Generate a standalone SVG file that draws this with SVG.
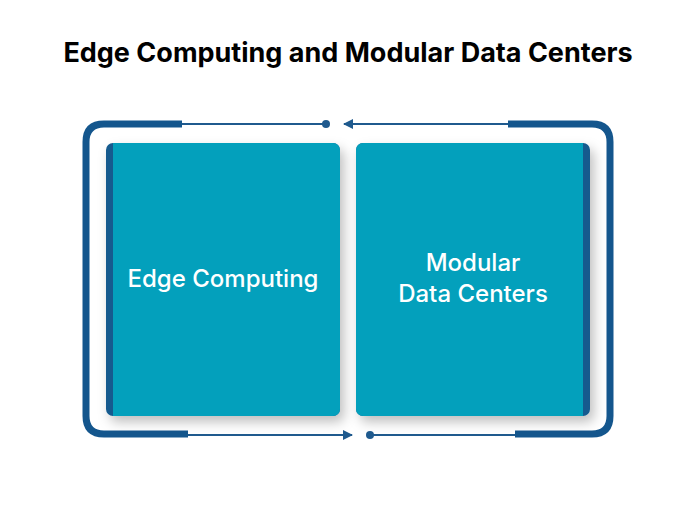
<svg xmlns="http://www.w3.org/2000/svg" width="696" height="510" viewBox="0 0 696 510">
<style>
.thick{fill:none;stroke:#14568d;stroke-width:7}
.thin{fill:none;stroke:#1f5a8e;stroke-width:2}
.card{fill:#03a0bc}
.strip{fill:#125a8e}
.lbl{font-family:"Inter","Liberation Sans",sans-serif;font-size:24px;font-weight:500;fill:#ffffff;text-anchor:middle}
</style>
<defs>
<marker id="ah" viewBox="0 0 10 10" refX="9" refY="5" markerWidth="5" markerHeight="5" orient="auto"><path d="M0,0 L10,5 L0,10 z" fill="#1f5a8e"/></marker>
<filter id="sh" x="-20%" y="-20%" width="140%" height="140%"><feDropShadow dx="4" dy="6" stdDeviation="6" flood-color="#000" flood-opacity="0.25"/></filter>
</defs>
<rect width="696" height="510" fill="#fff"/>
<text x="348" y="62" font-family="Inter,'Liberation Sans',sans-serif" font-weight="bold" font-size="27" text-anchor="middle" fill="#000">Edge Computing and Modular Data Centers</text>
<g id="connectors">
<path class="thick" d="M182,124 H104 Q86,124 86,142 V416 Q86,434 104,434 H188"/>
<path class="thick" d="M508,124 H592 Q610,124 610,142 V416 Q610,434 592,434 H515"/>
<line class="thin" x1="182" y1="124" x2="326" y2="124"/>
<circle cx="326" cy="124" r="4" fill="#1f5a8e"/>
<line class="thin" x1="508" y1="124" x2="344" y2="124" marker-end="url(#ah)"/>
<line class="thin" x1="188" y1="435" x2="352" y2="435" marker-end="url(#ah)"/>
<circle cx="370" cy="435" r="4" fill="#1f5a8e"/>
<line class="thin" x1="370" y1="435" x2="515" y2="435"/>
</g>
<g id="edge">
<rect class="strip" x="106" y="143" width="234" height="273" rx="7" filter="url(#sh)"/>
<rect class="card" x="113" y="143" width="227" height="273" rx="7"/>
<rect class="card" x="113" y="143" width="20" height="273"/>
<text class="lbl" x="223" y="287">Edge Computing</text>
</g>
<g id="modular">
<rect class="strip" x="356" y="143" width="234" height="273" rx="7" filter="url(#sh)"/>
<rect class="card" x="356" y="143" width="227" height="273" rx="7"/>
<rect class="card" x="563" y="143" width="20" height="273"/>
<text class="lbl" x="473" y="271">Modular</text>
<text class="lbl" x="473" y="302">Data Centers</text>
</g>
</svg>
